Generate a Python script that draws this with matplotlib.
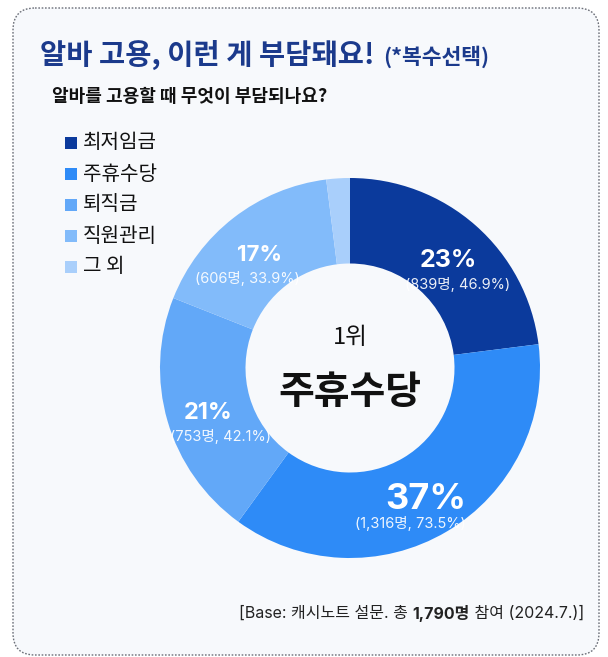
import matplotlib
matplotlib.use("Agg")
import matplotlib.pyplot as plt
from matplotlib.patches import FancyBboxPatch, Rectangle
import numpy as np

plt.rcParams['font.family'] = ['Noto Sans CJK KR', 'DejaVu Sans']
num_font = ['Inter', 'Noto Sans CJK KR']

# data
categories = ['최저임금', '주휴수당', '퇴직금', '직원관리', '그 외']
shares = [23, 37, 21, 17, 2]
counts = ['839명, 46.9%', '1,316명, 73.5%', '753명, 42.1%', '606명, 33.9%', '']
colors = ['#0b3a9c', '#2e8bf7', '#62a8f8', '#82bbfa', '#a9cffb']

# label styling
pct_sizes = [18, 26, 17, 16, 0]
sub_nudge = [0.05, -0.08, 0.07, -0.06, 0]  # small horizontal nudges of the detail lines

W, H = 608, 657
fig = plt.figure(figsize=(W / 100, H / 100), dpi=100)
fig.patch.set_facecolor('white')

# background card (pixel coordinates)
bg = fig.add_axes([0, 0, 1, 1])
bg.set_xlim(0, W)
bg.set_ylim(H, 0)
bg.axis('off')
card = FancyBboxPatch((13, 8), 586, 647, boxstyle='round,pad=0,rounding_size=22',
                      facecolor='#f7f9fc', edgecolor='#6b6f78', linewidth=1.0,
                      linestyle=(0, (1.2, 1.2)))
bg.add_patch(card)

# titles
t1 = bg.text(40, 55, '알바 고용, 이런 게 부담돼요!', fontsize=20.5, fontweight='bold',
             color='#1b3a8c', va='center', ha='left')
fig.canvas.draw()
r = fig.canvas.get_renderer()
bb = t1.get_window_extent(r)
bg.text(bb.x1 + 9, 57, '(*복수선택)', fontsize=15.5, fontweight='bold',
        color='#1b3a8c', va='center', ha='left')
bg.text(52, 96, '알바를 고용할 때 무엇이 부담되나요?', fontsize=13, fontweight='bold',
        color='#111111', va='center', ha='left')

# legend
for i, (cat, col) in enumerate(zip(categories, colors)):
    y = 143 + i * 31
    bg.add_patch(Rectangle((65, y - 6), 12, 12, facecolor=col, edgecolor='none'))
    bg.text(83, y, cat, fontsize=14.5, color='#111111', va='center', ha='left')

# footer, right aligned with bold count
parts = [('[Base: 캐시노트 설문. 총 ', 'normal'), ('1,790명', 'bold'), (' 참여 (2024.7.)]', 'normal')]
widths = []
for s, w in parts:
    tt = bg.text(0, 0, s, fontsize=11.5, fontweight=w, family=num_font)
    widths.append(tt.get_window_extent(r).width)
    tt.remove()
x = 584 - sum(widths)
for (s, w), wd in zip(parts, widths):
    bg.text(x, 613, s, fontsize=11.5, fontweight=w, family=num_font, color='#222222',
            va='center', ha='left')
    x += wd

# donut
cx, cy, R = 350, 368, 190
ax = fig.add_axes([(cx - R) / W, (H - cy - R) / H, 2 * R / W, 2 * R / H])
wedges, _ = ax.pie(shares, colors=colors, startangle=90, counterclock=False,
                   radius=1.0, wedgeprops=dict(width=0.45, edgecolor='none'))
ax.set_xlim(-1, 1)
ax.set_ylim(-1, 1)
ax.axis('off')

start = 0.0
for val, cnt, sz, dx in zip(shares, counts, pct_sizes, sub_nudge):
    mid = np.deg2rad((start + val / 2) / 100 * 360)
    start += val
    if not cnt:
        continue
    px, py = 0.78 * np.sin(mid), 0.78 * np.cos(mid)
    ax.text(px, py - 0.02, f'{val}%', fontsize=sz, fontweight='bold', color='white',
            family=num_font, ha='center', va='center')
    ax.text(px + dx, py - 0.145, f'({cnt})', fontsize=10.5, family=num_font,
            color='white', alpha=0.92, ha='center', va='center')

ax.text(0, 0.16, '1위', fontsize=17, color='#111111', ha='center', va='center')
ax.text(0, -0.13, '주휴수당', fontsize=28, fontweight='bold', color='#111111',
        ha='center', va='center')

fig.savefig('out.png', dpi=100, facecolor='white')
